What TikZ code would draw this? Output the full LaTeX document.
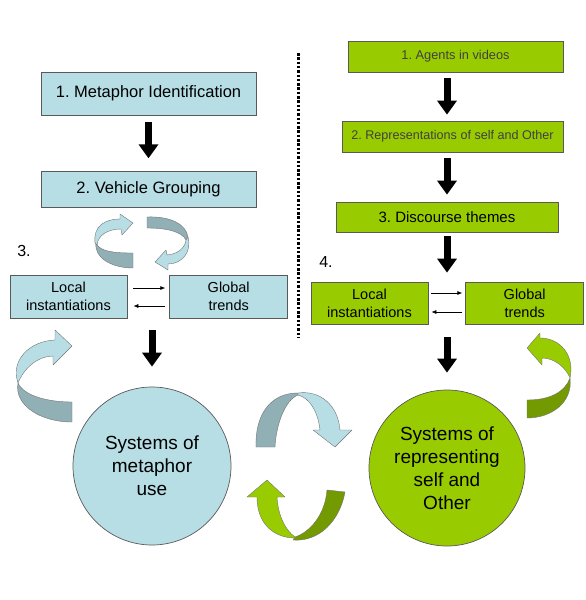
\documentclass[tikz,border=0pt]{standalone}
\usepackage{fontspec}
\setmainfont{Liberation Sans}
\usetikzlibrary{positioning,arrows.meta}

\definecolor{tealfill}{HTML}{B7DEE5}
\definecolor{tealdark}{HTML}{90B0B6}
\definecolor{limefill}{HTML}{99CC00}
\definecolor{limedark}{HTML}{739A00}

\tikzset{
    stepbox/.style={rectangle, draw=black!65, line width=0.7pt, inner sep=0pt, align=center},
    tealbox/.style={stepbox, fill=tealfill},
    limebox/.style={stepbox, fill=limefill},
    sysnode/.style={circle, draw=black!65, line width=0.7pt, inner sep=0pt,
      minimum size=#1, align=center, font=\fontsize{19}{23}\selectfont},
    bigarrow/.style={line width=7pt, -{Triangle[width=19pt,length=14pt]}},
    thinarrow/.style={line width=0.7pt, -{Latex[length=5pt,width=4pt]}},
    ribbon/.style={draw=black!55, line width=0.4pt, line join=round}
}

\begin{document}
\frenchspacing
\begin{tikzpicture}[x=1pt, y=-1pt]
    \useasboundingbox (0,0) rectangle (586,600);

    % metaphor side
    \node[tealbox, minimum width=215pt, minimum height=43pt,
      font=\fontsize{16.5}{19}\selectfont] (m1) at (148.5,93.5) {1. Metaphor Identification};
    \node[tealbox, minimum width=215pt, minimum height=36pt,
      font=\fontsize{16.5}{19}\selectfont, below=56pt of m1] (m2) {2. Vehicle Grouping};
    \node[font=\fontsize{16}{19}\selectfont] (l3) at (24,251) {3.};
    \node[tealbox, minimum width=117pt, minimum height=43pt,
      font=\fontsize{14.5}{18}\selectfont] (lloc) at (68.5,296.5) {Local\\instantiations};
    \node[tealbox, minimum width=118pt, minimum height=43pt,
      font=\fontsize{14.5}{18}\selectfont, right=42pt of lloc] (lglob) {Global\\trends};
    \node[sysnode=158pt, fill=tealfill] (lsys) at (152,466) {Systems of\\metaphor\\use};

    \draw[bigarrow, shorten <=7pt, shorten >=13pt] (m1.south) -- (m2.north);
    \draw[thinarrow, shorten <=6pt, shorten >=4pt] ([yshift=8.5pt]lloc.east) -- ([yshift=8.5pt]lglob.west);
    \draw[thinarrow, shorten <=4pt, shorten >=6pt] ([yshift=-9.5pt]lglob.west) -- ([yshift=-9.5pt]lloc.east);
    \draw[bigarrow, shorten <=12pt, shorten >=20pt] (lsys.north |- lloc.south) -- (lsys.north);

    % self and Other side
    \node[limebox, minimum width=215pt, minimum height=31pt, text=black!75,
      font=\fontsize{12.8}{15}\selectfont] (a1) at (455.5,56.5) {1. Agents in videos};
    \node[limebox, minimum width=221pt, minimum height=31pt, text=black!75,
      font=\fontsize{12.6}{15}\selectfont] (a2) at (452.5,136.5) {2. Representations of self and Other};
    \node[limebox, minimum width=222pt, minimum height=30pt,
      font=\fontsize{15}{18}\selectfont] (a3) at (447,217) {3. Discourse themes};
    \node[font=\fontsize{16}{19}\selectfont] (r4) at (326,262) {4.};
    \node[limebox, minimum width=117pt, minimum height=42pt,
      font=\fontsize{14.5}{18}\selectfont] (rloc) at (369.5,303) {Local\\instantiations};
    \node[limebox, minimum width=118pt, minimum height=42pt,
      font=\fontsize{14.5}{18}\selectfont, right=37pt of rloc] (rglob) {Global\\trends};
    \node[sysnode=156pt, fill=limefill] (rsys) at (447,468) {Systems of\\representing\\self and\\Other};

    \draw[bigarrow, shorten <=6pt, shorten >=6pt] (a1.south -| a3.south) -- (a2.north -| a3.south);
    \draw[bigarrow, shorten <=6pt, shorten >=7pt] (a2.south -| a3.south) -- (a3.north);
    \draw[bigarrow, shorten <=4pt, shorten >=9pt] (a3.south) -- (a3.south |- rloc.north);
    \draw[thinarrow, shorten <=3pt, shorten >=3pt] ([yshift=10pt]rloc.east) -- ([yshift=10pt]rglob.west);
    \draw[thinarrow, shorten <=3pt, shorten >=3pt] ([yshift=-9pt]rglob.west) -- ([yshift=-9pt]rloc.east);
    \draw[bigarrow, shorten <=13pt, shorten >=17pt] (rsys.north |- rloc.south) -- (rsys.north);

    \draw[line width=3pt, dash pattern=on 2.5pt off 1.8pt] (298,53) -- (298,337);

    % curled arrows
    \filldraw[ribbon, fill=tealdark] (96,243) .. controls (100,252) and (115,253) .. (133,253)
      -- (133,268) .. controls (112,268) and (94,258) .. (96,243) -- cycle;
    \filldraw[ribbon, fill=tealfill] (95,243) .. controls (93,226) and (105,219) .. (120,219)
      -- (120,214) -- (133,223) -- (122,235) -- (121,229)
      .. controls (108,229) and (98,235) .. (97,245) -- cycle;
    \filldraw[ribbon, fill=tealdark] (147,217) .. controls (170,216) and (186,224) .. (188,237)
      -- (186,240) .. controls (182,232) and (168,228) .. (147,228) -- cycle;
    \filldraw[ribbon, fill=tealfill] (188,237) .. controls (192,252) and (182,264) .. (168,264)
      -- (168,270) -- (155,262) -- (166,250) -- (167,255)
      .. controls (178,254) and (185,248) .. (186,240) -- cycle;

    \filldraw[ribbon, fill=tealdark] (18,383) .. controls (24,396) and (48,402) .. (72,402)
      -- (72,422) .. controls (40,422) and (14,405) .. (18,383) -- cycle;
    \filldraw[ribbon, fill=tealfill] (18,383) .. controls (10,360) and (30,341) .. (55,340)
      -- (55,330) -- (72,346) -- (53,365) -- (53,356)
      .. controls (38,356) and (24,368) .. (18,383) -- cycle;

    \filldraw[ribbon, fill=limedark] (570,378) .. controls (565,392) and (550,400) .. (527,400)
      -- (527,418) .. controls (552,418) and (573,402) .. (570,378) -- cycle;
    \filldraw[ribbon, fill=limefill] (570,378) .. controls (575,355) and (560,338) .. (540,338)
      -- (540,333) -- (527,348) -- (542,365) -- (542,358)
      .. controls (555,358) and (566,368) .. (570,378) -- cycle;

    \filldraw[ribbon, fill=tealdark] (298,393) .. controls (270,393) and (255,415) .. (256,447)
      -- (275,447) .. controls (276,425) and (285,400) .. (298,395) -- cycle;
    \filldraw[ribbon, fill=tealfill] (298,393) .. controls (320,390) and (338,405) .. (340,430)
      -- (352,430) -- (335,447) -- (313,430) -- (320,430)
      .. controls (318,412) and (310,398) .. (298,395) -- cycle;

    \filldraw[ribbon, fill=limedark] (293,540) .. controls (320,542) and (340,520) .. (345,492)
      -- (327,490) .. controls (325,515) and (310,532) .. (295,537) -- cycle;
    \filldraw[ribbon, fill=limefill] (295,538) .. controls (275,538) and (257,525) .. (257,497)
      -- (247,497) -- (267,480) -- (285,497) -- (277,497)
      .. controls (278,515) and (285,530) .. (295,537) -- cycle;
\end{tikzpicture}
\end{document}
